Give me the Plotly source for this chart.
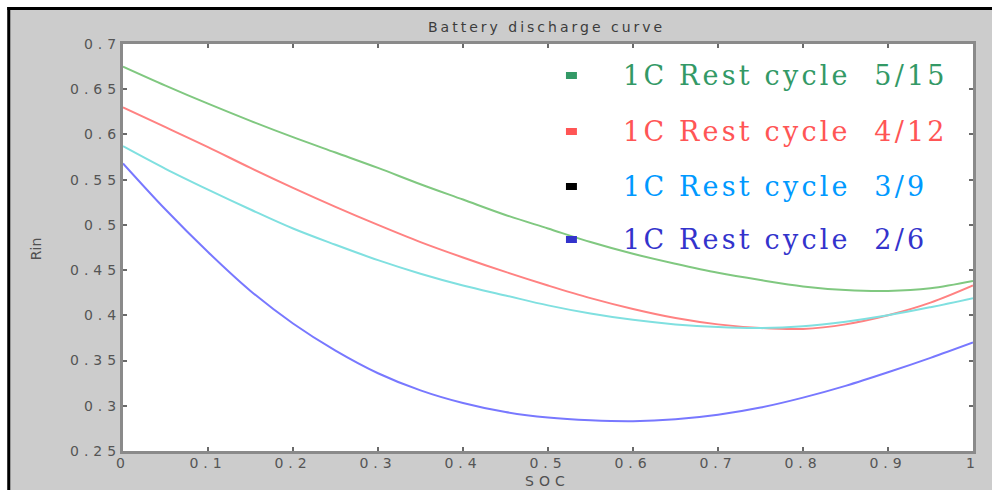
import plotly.graph_objects as go

# ---------------- data ----------------
soc = [0.0, 0.05, 0.1, 0.15, 0.2, 0.25, 0.3, 0.35, 0.4, 0.45, 0.5,
       0.55, 0.6, 0.65, 0.7, 0.75, 0.8, 0.85, 0.9, 0.95, 1.0]

rin_5_15 = [0.675, 0.654, 0.634, 0.615, 0.597, 0.580, 0.563, 0.545, 0.528, 0.511, 0.496,
            0.481, 0.468, 0.457, 0.447, 0.439, 0.432, 0.428, 0.427, 0.430, 0.438]
rin_4_12 = [0.630, 0.608, 0.586, 0.563, 0.541, 0.520, 0.500, 0.481, 0.464, 0.448, 0.433,
            0.419, 0.407, 0.397, 0.390, 0.386, 0.385, 0.390, 0.400, 0.414, 0.433]
rin_3_9 = [0.587, 0.562, 0.539, 0.517, 0.496, 0.478, 0.461, 0.446, 0.433, 0.422, 0.411,
           0.402, 0.395, 0.390, 0.387, 0.386, 0.388, 0.393, 0.400, 0.409, 0.419]
rin_2_6 = [0.568, 0.517, 0.470, 0.427, 0.391, 0.361, 0.336, 0.317, 0.303, 0.293, 0.287,
           0.284, 0.283, 0.285, 0.290, 0.298, 0.309, 0.322, 0.337, 0.353, 0.370]

series_names = ["1C Rest cycle  5/15", "1C Rest cycle  4/12",
                "1C Rest cycle  3/9", "1C Rest cycle  2/6"]
line_colors = ["#80c880", "#ff8282", "#80e0e0", "#7878ff"]
text_colors = ["#339966", "#ff5555", "#0099ff", "#3333cc"]
marker_colors = ["#339966", "#ff5555", "#000000", "#3333cc"]

x_tick_vals = [0, 0.1, 0.2, 0.3, 0.4, 0.5, 0.6, 0.7, 0.8, 0.9, 1.0]
x_tick_labels = ["0", "0.1", "0.2", "0.3", "0.4", "0.5", "0.6", "0.7", "0.8", "0.9", "1"]
y_tick_vals = [0.25, 0.3, 0.35, 0.4, 0.45, 0.5, 0.55, 0.6, 0.65, 0.7]
y_tick_labels = ["0.25", "0.3", "0.35", "0.4", "0.45", "0.5", "0.55", "0.6", "0.65", "0.7"]

title_text = "Battery discharge curve"
x_title = "SOC"
y_title = "Rin"

# ---------------- figure ----------------
W, H = 992, 490
L, R, T, B = 123, 17, 44, 39
PW, PH = W - L - R, H - T - B


def px(x):
    return (x - L) / PW


def py(y):
    return (H - B - y) / PH


def spaced(t, ls):
    return f'<span style="letter-spacing:{ls}px">{t}</span>'


fig = go.Figure()
all_series = [rin_5_15, rin_4_12, rin_3_9, rin_2_6]
for name, vals, col in zip(series_names, all_series, line_colors):
    fig.add_trace(go.Scatter(x=soc, y=vals, mode="lines", name=name,
                             line=dict(color=col, width=2, shape="spline", smoothing=1.0),
                             showlegend=False, hoverinfo="skip"))

tick_font = dict(family="DejaVu Sans", size=14, color="#555555")
axis_common = dict(showline=True, linecolor="#8a8a8a", linewidth=3, mirror="allticks",
                   ticks="inside", ticklen=4, tickwidth=2, tickcolor="#6a6a6a",
                   showgrid=False, zeroline=False, tickfont=tick_font, tickmode="array")

fig.update_xaxes(range=[0, 1], tickvals=x_tick_vals, ticklabelstandoff=-3,
                 ticktext=[spaced(t, 5) for t in x_tick_labels], **axis_common)
fig.update_yaxes(range=[0.25, 0.7], tickvals=y_tick_vals, ticklabelstandoff=-4,
                 ticktext=[spaced(t, 5) for t in y_tick_labels], **axis_common)

annotations = [
    dict(text=spaced(title_text, 3), x=px(547), y=py(27), xref="paper", yref="paper",
         showarrow=False, xanchor="center", yanchor="middle",
         font=dict(family="DejaVu Sans", size=14, color="#3c3c3c")),
    dict(text=spaced(x_title, 5), x=px(548), y=py(490), xref="paper", yref="paper",
         showarrow=False, xanchor="center", yanchor="bottom", borderpad=0,
         font=dict(family="DejaVu Sans", size=14, color="#505050")),
    dict(text=y_title, x=px(36), y=py(249), xref="paper", yref="paper", textangle=-90,
         showarrow=False, xanchor="center", yanchor="middle",
         font=dict(family="DejaVu Sans", size=14, color="#505050")),
]

legend_rows = [75, 131, 186, 239]
shapes = []
for name, tc, mc, ry in zip(series_names, text_colors, marker_colors, legend_rows):
    annotations.append(dict(text=spaced(name.replace("  ", "\u00a0\u00a0"), 3.2),
                            x=px(622), y=py(ry),
                            xref="paper", yref="paper", showarrow=False,
                            xanchor="left", yanchor="middle",
                            font=dict(family="DejaVu Serif", size=27, color=tc)))
    shapes.append(dict(type="rect", xref="paper", yref="paper",
                       x0=px(567), x1=px(578), y0=py(ry - 3), y1=py(ry + 4),
                       fillcolor=mc, line=dict(width=0), layer="above"))

# outer white margin + black frame (top and left)
shapes += [
    dict(type="rect", xref="paper", yref="paper", x0=px(0), x1=px(W + 5), y0=py(7), y1=py(-5),
         fillcolor="white", line=dict(width=0), layer="below"),
    dict(type="rect", xref="paper", yref="paper", x0=px(-5), x1=px(7), y0=py(H + 5), y1=py(-5),
         fillcolor="white", line=dict(width=0), layer="below"),
    dict(type="rect", xref="paper", yref="paper", x0=px(7), x1=px(W + 5), y0=py(10), y1=py(7),
         fillcolor="black", line=dict(width=0), layer="below"),
    dict(type="rect", xref="paper", yref="paper", x0=px(7), x1=px(10), y0=py(H + 5), y1=py(7),
         fillcolor="black", line=dict(width=0), layer="below"),
]

fig.update_layout(width=W, height=H, margin=dict(l=L, r=R, t=T, b=B),
                  paper_bgcolor="#cccccc", plot_bgcolor="white",
                  annotations=annotations, shapes=shapes, showlegend=False)

fig.write_html("out.html", config={"displayModeBar": False})
